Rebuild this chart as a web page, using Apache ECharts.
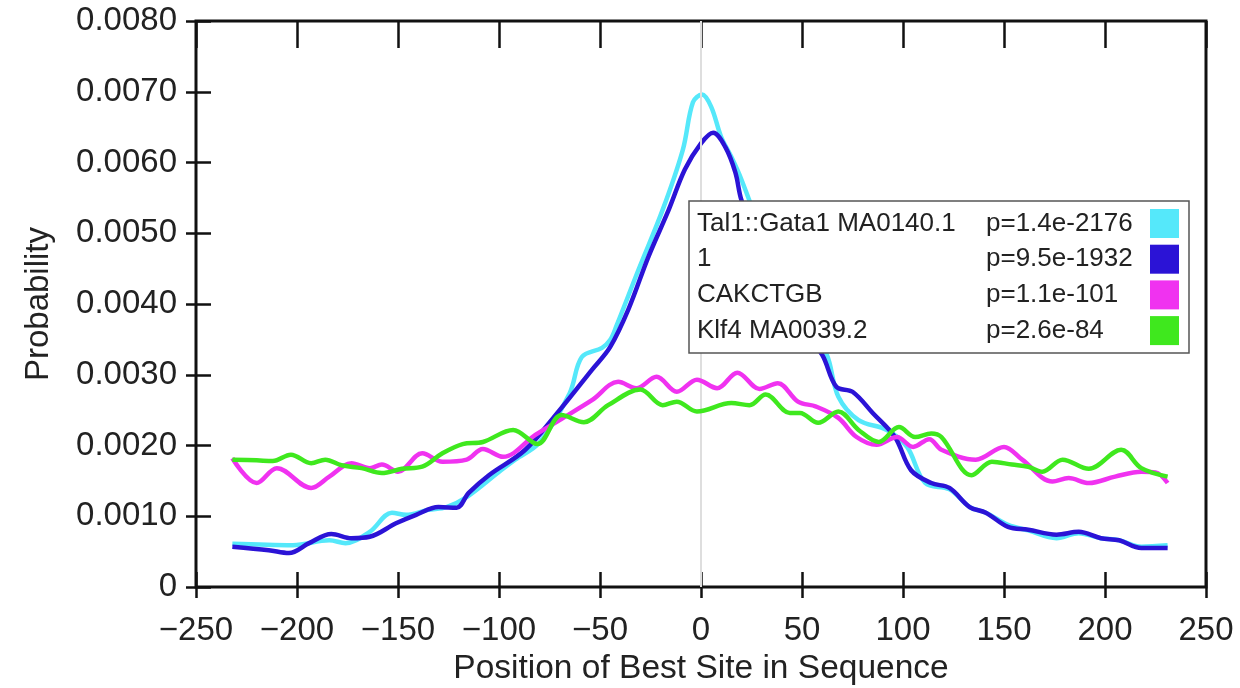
<!DOCTYPE html>
<html>
<head>
<meta charset="utf-8">
<script src="https://cdn.jsdelivr.net/npm/echarts@6/dist/echarts.min.js"></script>
<style>
  html, body { margin: 0; padding: 0; background: #fff; }
  #main { width: 1240px; height: 688px; }
</style>
</head>
<body>
<div id="main"></div>
<script>
// curves: position of best site vs probability
const tal1X = [-232, -202, -184, -176, -164, -153, -146, -135, -126, -116, -99, -92, -80, -65, -59, -49, -45, -42, -31, -19, -9, -4, 0.5, 5, 10, 15, 20, 30, 40, 50, 62, 68, 78, 92, 102, 111, 123, 133, 141, 152, 162, 176, 187, 198, 207, 218, 231];
const tal1Y = [0.00061, 0.00059, 0.00066, 0.00062, 0.00078, 0.00105, 0.00102, 0.00109, 0.00113, 0.00127, 0.00165, 0.00180, 0.00204, 0.00274, 0.00325, 0.00338, 0.00349, 0.00368, 0.00448, 0.00533, 0.00618, 0.00685, 0.00696, 0.00679, 0.00636, 0.00608, 0.00576, 0.00500, 0.00430, 0.00380, 0.00330, 0.00269, 0.00236, 0.00222, 0.00198, 0.00147, 0.00138, 0.00113, 0.00105, 0.00088, 0.00080, 0.00069, 0.00076, 0.00069, 0.00066, 0.00057, 0.00059];

const oneX = [-232, -214, -204, -194, -183, -173, -164, -151, -141, -130, -121, -115, -105, -87, -70, -54, -45, -36, -26, -16, -8, 0, 6, 12, 17, 20, 30, 40, 50, 60, 67, 75, 85, 96, 104, 114, 123, 133, 141, 152, 162, 176, 187, 198, 207, 218, 231];
const oneY = [0.00057, 0.00052, 0.00048, 0.00062, 0.00075, 0.00069, 0.00071, 0.00090, 0.00102, 0.00113, 0.00112, 0.00133, 0.00158, 0.00194, 0.00250, 0.00307, 0.00339, 0.00392, 0.00467, 0.00533, 0.00590, 0.00627, 0.00642, 0.00622, 0.00586, 0.00547, 0.00470, 0.00410, 0.00365, 0.00328, 0.00283, 0.00276, 0.00246, 0.00212, 0.00165, 0.00147, 0.00140, 0.00113, 0.00105, 0.00085, 0.00081, 0.00074, 0.00078, 0.00069, 0.00066, 0.00055, 0.00055];

const cakX = [-232, -220, -210, -193, -184, -173, -164, -158, -150, -138, -128, -116, -108, -98, -82, -70, -54, -41, -32, -22, -12, -2, 8, 18, 29, 38, 48, 57, 68, 77, 87, 97, 105, 113, 119, 136, 150, 159, 174, 182, 192, 205, 218, 225, 231];
const cakY = [0.00182, 0.00147, 0.00168, 0.00140, 0.00156, 0.00175, 0.00168, 0.00173, 0.00163, 0.00189, 0.00177, 0.00180, 0.00195, 0.00184, 0.00215, 0.00236, 0.00264, 0.00290, 0.00281, 0.00297, 0.00276, 0.00293, 0.00281, 0.00303, 0.00280, 0.00288, 0.00262, 0.00255, 0.00239, 0.00212, 0.00201, 0.00212, 0.00198, 0.00209, 0.00194, 0.00180, 0.00198, 0.00180, 0.00149, 0.00154, 0.00147, 0.00156, 0.00163, 0.00162, 0.00147];

const klfX = [-232, -220, -212, -203, -193, -186, -178, -168, -158, -148, -138, -128, -118, -108, -93, -81, -69, -58, -46, -30, -19, -12, -2, 15, 24, 32, 44, 49, 58, 68, 78, 88, 98, 106, 114, 119, 134, 144, 154, 162, 169, 179, 192, 208, 218, 231];
const klfY = [0.00180, 0.00179, 0.00178, 0.00187, 0.00175, 0.00180, 0.00172, 0.00168, 0.00161, 0.00167, 0.00170, 0.00189, 0.00202, 0.00205, 0.00222, 0.00202, 0.00243, 0.00233, 0.00257, 0.00279, 0.00257, 0.00262, 0.00248, 0.00260, 0.00257, 0.00272, 0.00246, 0.00246, 0.00232, 0.00248, 0.00222, 0.00205, 0.00226, 0.00212, 0.00217, 0.00212, 0.00158, 0.00177, 0.00173, 0.00170, 0.00163, 0.00180, 0.00167, 0.00194, 0.00168, 0.00156];

const names = ['Tal1::Gata1 MA0140.1', '1', 'CAKCTGB', 'Klf4 MA0039.2'];
const pValues = ['p=1.4e-2176', 'p=9.5e-1932', 'p=1.1e-101', 'p=2.6e-84'];
const colors = ['#55e8fa', '#2b13d6', '#f032f0', '#3fe81e'];

const xTicks = [-250, 250, 50];   // min, max, step
const yTicks = [0, 0.008, 0.001];

let myChart;
let chartOption;

const FONT = 'Liberation Sans';

function zip(xs, ys) {
  let out = [];
  for (let i = 0; i < xs.length; i++) out.push([xs[i], ys[i]]);
  return out;
}

function lineSeries(idx, xs, ys) {
  return {
    name: names[idx],
    type: 'line',
    xAxisIndex: 0,
    yAxisIndex: 0,
    data: zip(xs, ys),
    smooth: 0.35,
    showSymbol: false,
    symbol: 'none',
    lineStyle: { color: colors[idx], width: 4.5 },
    itemStyle: { color: colors[idx] },
    z: 3 + idx
  };
}

function init() {
  myChart = echarts.init(document.getElementById('main'), null, { renderer: 'canvas' });

  const noLine = { show: false, onZero: false };
  const tickStyle = { color: '#111', width: 2.5 };
  const pPos = {};
  names.forEach(function (n, i) { pPos[n] = pValues[i]; });

  chartOption = {
    animation: false,
    backgroundColor: '#fff',
    textStyle: { fontFamily: FONT },
    // the frame is the grid border; the bottom/left axes are shifted 15px inward
    // so their ticks cross the frame line
    grid: {
      left: 196, top: 21, width: 1010, height: 566,
      containLabel: false, outerBoundsMode: 'none',
      show: true, borderColor: '#111', borderWidth: 3, backgroundColor: 'transparent'
    },
    legend: {
      data: names.map(function (n) { return { name: n, icon: 'rect' }; }),
      orient: 'vertical',
      left: 689,
      top: 201,
      align: 'right',
      z: 20,
      itemWidth: 29,
      itemHeight: 29,
      itemGap: 6.7,
      padding: [8, 10, 8, 8],
      backgroundColor: '#fff',
      borderColor: '#555',
      borderWidth: 1.5,
      borderRadius: 0,
      selectedMode: false,
      formatter: function (name) {
        return '{n|' + name + '}{p|' + pPos[name] + '}';
      },
      textStyle: {
        fontFamily: FONT,
        fontSize: 26,
        color: '#222',
        rich: {
          n: { width: 289, align: 'left', fontSize: 26, lineHeight: 29, fontFamily: FONT, color: '#222' },
          p: { width: 159, align: 'left', fontSize: 26, lineHeight: 29, fontFamily: FONT, color: '#222' }
        }
      }
    },
    xAxis: [
      {
        type: 'value', position: 'bottom', offset: -15,
        min: xTicks[0], max: xTicks[1], interval: xTicks[2],
        axisLine: noLine,
        axisTick: { show: true, inside: false, length: 26, lineStyle: tickStyle },
        splitLine: { show: false },
        axisLabel: {
          fontSize: 33, color: '#222', margin: 42, fontFamily: FONT,
          formatter: function (v) { return String(v).replace('-', '\u2212'); }
        },
        name: 'Position of Best Site in Sequence',
        nameLocation: 'middle',
        nameGap: 76,
        nameTextStyle: { fontSize: 33.5, color: '#222', fontFamily: FONT }
      },
      {
        type: 'value', position: 'top',
        min: xTicks[0], max: xTicks[1], interval: xTicks[2],
        axisLine: noLine,
        axisTick: { show: true, inside: true, length: 27, lineStyle: tickStyle },
        axisLabel: { show: false },
        splitLine: { show: false }
      }
    ],
    yAxis: [
      {
        type: 'value', position: 'left', offset: -15,
        min: yTicks[0], max: yTicks[1], interval: yTicks[2],
        axisLine: noLine,
        axisTick: { show: true, inside: false, length: 25, lineStyle: tickStyle },
        splitLine: { show: false },
        axisLabel: {
          fontSize: 33, color: '#222', margin: 34, fontFamily: FONT,
          formatter: function (v) { return v === 0 ? '0' : v.toFixed(4); }
        },
        name: 'Probability',
        nameLocation: 'middle',
        nameGap: 156,
        nameRotate: 90,
        nameTextStyle: { fontSize: 33, color: '#222', fontFamily: FONT }
      },
      {
        type: 'value', position: 'right',
        min: yTicks[0], max: yTicks[1], interval: yTicks[2],
        axisLine: noLine,
        axisTick: { show: false },
        axisLabel: { show: false },
        splitLine: { show: false }
      }
    ],
    series: [
      {
        // grey guide at position 0
        name: 'zero',
        type: 'line',
        data: [],
        z: 1,
        markLine: {
          silent: true,
          symbol: ['none', 'none'],
          label: { show: false },
          lineStyle: { color: '#dedede', width: 2, type: 'solid' },
          data: [{ xAxis: 0 }]
        }
      },
      lineSeries(0, tal1X, tal1Y),
      lineSeries(1, oneX, oneY),
      lineSeries(2, cakX, cakY),
      lineSeries(3, klfX, klfY)
    ]
  };

  chartOption && myChart.setOption(chartOption);
}

init();
</script>
</body>
</html>
